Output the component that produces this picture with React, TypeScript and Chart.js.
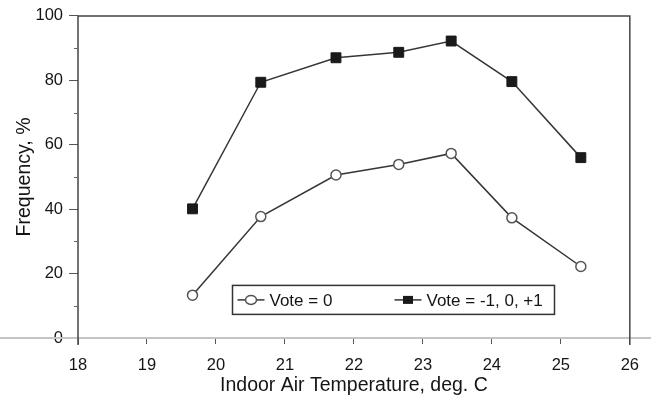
import { useEffect, useRef } from "react";
import { Chart, registerables } from "chart.js";

Chart.register(...registerables);

// Indoor air temperature bins, deg. C
const temperatures = [19.66, 20.65, 21.74, 22.65, 23.41, 24.29, 25.29];
// Share of "neutral" votes (vote = 0), %
const voteZero = [13.3, 37.7, 50.6, 53.9, 57.3, 37.3, 22.2];
// Share of votes within the central three categories (-1, 0, +1), %
const voteCentral = [40.1, 79.4, 87.0, 88.7, 92.2, 79.6, 56.0];

const seriesLabels = ["Vote = 0", "Vote = -1, 0, +1"];
const xAxisTitle = "Indoor Air Temperature, deg. C";
const yAxisTitle = "Frequency, %";
const yMinorTicks = [10, 30, 50, 70, 90];

const FONT = "'Liberation Sans', Arial, Helvetica, sans-serif";
const INK = "#151515";
const LINE = "#363636";

// Plot frame, the light baseline running across the page, and minor y ticks
const framePlugin = {
  id: "frame",
  beforeDatasetsDraw(chart: any) {
    const { ctx, chartArea: a, width } = chart;
    ctx.save();
    // baseline
    ctx.strokeStyle = "#c4c4c4";
    ctx.lineWidth = 2;
    ctx.beginPath();
    ctx.moveTo(0, a.bottom);
    ctx.lineTo(width, a.bottom);
    ctx.stroke();
    // box
    ctx.strokeStyle = "#444";
    ctx.lineWidth = 1.5;
    ctx.beginPath();
    ctx.moveTo(a.left, a.bottom + 7);
    ctx.lineTo(a.left, a.top);
    ctx.lineTo(a.right, a.top);
    ctx.lineTo(a.right, a.bottom + 7);
    ctx.stroke();
    // minor y ticks
    const ys = chart.scales.y;
    ctx.lineWidth = 1;
    ctx.strokeStyle = "#666";
    ctx.beginPath();
    for (const v of yMinorTicks) {
      const py = Math.round(ys.getPixelForValue(v)) + 0.5;
      ctx.moveTo(a.left - 4, py);
      ctx.lineTo(a.left, py);
    }
    ctx.stroke();
    ctx.restore();
  },
};

// Legend box placed inside the plot area
const insideLegend = {
  id: "insideLegend",
  afterDatasetsDraw(chart: any) {
    const { ctx, chartArea: a } = chart;
    const x0 = a.left + 154.5;
    const y0 = a.top + 269.5;
    const w = 322;
    const h = 29;
    ctx.save();
    ctx.fillStyle = "#fff";
    ctx.fillRect(x0, y0, w, h);
    ctx.strokeStyle = "#333";
    ctx.lineWidth = 1.5;
    ctx.strokeRect(x0, y0, w, h);

    const cy = y0 + h / 2;
    const items = [
      { start: x0 + 5, ds: chart.data.datasets[0] },
      { start: x0 + 162, ds: chart.data.datasets[1] },
    ];
    for (const it of items) {
      const ds = it.ds;
      const lineEnd = it.start + 27;
      ctx.strokeStyle = LINE;
      ctx.lineWidth = 1.5;
      ctx.beginPath();
      ctx.moveTo(it.start, cy);
      ctx.lineTo(lineEnd, cy);
      ctx.stroke();
      ctx.fillStyle = ds.pointBackgroundColor;
      ctx.strokeStyle = ds.pointBorderColor;
      ctx.lineWidth = ds.pointBorderWidth;
      const mx = (it.start + lineEnd) / 2;
      if (ds.pointStyle === "rect") {
        ctx.fillRect(mx - 5, cy - 4, 10, 8);
      } else {
        ctx.beginPath();
        ctx.ellipse(mx, cy, 5.5, 4.5, 0, 0, Math.PI * 2);
        ctx.fill();
        ctx.stroke();
      }
      ctx.fillStyle = INK;
      ctx.font = `17px ${FONT}`;
      ctx.textBaseline = "middle";
      ctx.textAlign = "left";
      ctx.fillText(ds.label, lineEnd + 5, cy + 1);
    }
    ctx.restore();
  },
};

export default function App() {
  const canvasRef = useRef<HTMLCanvasElement | null>(null);

  useEffect(() => {
    const canvas = canvasRef.current;
    if (!canvas) return;
    const chart = new Chart(canvas, {
      type: "line",
      data: {
        datasets: [
          {
            label: seriesLabels[0],
            data: temperatures.map((t, i) => ({ x: t, y: voteZero[i] })),
            borderColor: LINE,
            borderWidth: 1.5,
            pointStyle: "circle",
            pointRadius: 5,
            pointBackgroundColor: "#fff",
            pointBorderColor: "#555",
            pointBorderWidth: 1.5,
            tension: 0,
          },
          {
            label: seriesLabels[1],
            data: temperatures.map((t, i) => ({ x: t, y: voteCentral[i] })),
            borderColor: LINE,
            borderWidth: 1.5,
            pointStyle: "rect",
            pointRadius: 7,
            pointBackgroundColor: "#1a1a1a",
            pointBorderColor: "#1a1a1a",
            pointBorderWidth: 1,
            tension: 0,
          },
        ],
      },
      options: {
        animation: false,
        responsive: false,
        maintainAspectRatio: false,
        layout: { padding: { top: 14, right: 20, left: 0, bottom: 0 } },
        plugins: {
          legend: { display: false },
          tooltip: { enabled: false },
        },
        scales: {
          x: {
            type: "linear",
            min: 18,
            max: 26,
            afterFit: (s: any) => {
              s.height = 63;
            },
            ticks: {
              stepSize: 1,
              color: INK,
              padding: 12,
              font: { family: FONT, size: 16.5 },
            },
            grid: {
              drawOnChartArea: false,
              drawTicks: true,
              tickLength: 6,
              tickColor: "#555",
              tickWidth: 1,
            },
            border: { display: false },
            title: {
              display: true,
              text: xAxisTitle,
              color: INK,
              font: { family: FONT, size: 19.5 },
              padding: { top: 0, bottom: 4 },
            },
          },
          y: {
            type: "linear",
            min: 0,
            max: 100,
            afterFit: (s: any) => {
              s.width = 78;
            },
            ticks: {
              stepSize: 20,
              color: INK,
              padding: 6,
              font: { family: FONT, size: 16.5 },
            },
            grid: {
              drawOnChartArea: false,
              drawTicks: true,
              tickLength: 9,
              tickColor: "#555",
              tickWidth: 1,
            },
            border: { display: false },
            title: {
              display: true,
              text: yAxisTitle,
              color: INK,
              font: { family: FONT, size: 19.5 },
              padding: { top: 13, bottom: 0 },
            },
          },
        },
      },
      plugins: [framePlugin, insideLegend],
    });
    return () => chart.destroy();
  }, []);

  return (
    <div
      style={{
        position: "absolute",
        left: 0,
        top: 0,
        width: 651,
        height: 401,
        background: "#fff",
      }}
    >
      <canvas ref={canvasRef} width={651} height={401} />
    </div>
  );
}
